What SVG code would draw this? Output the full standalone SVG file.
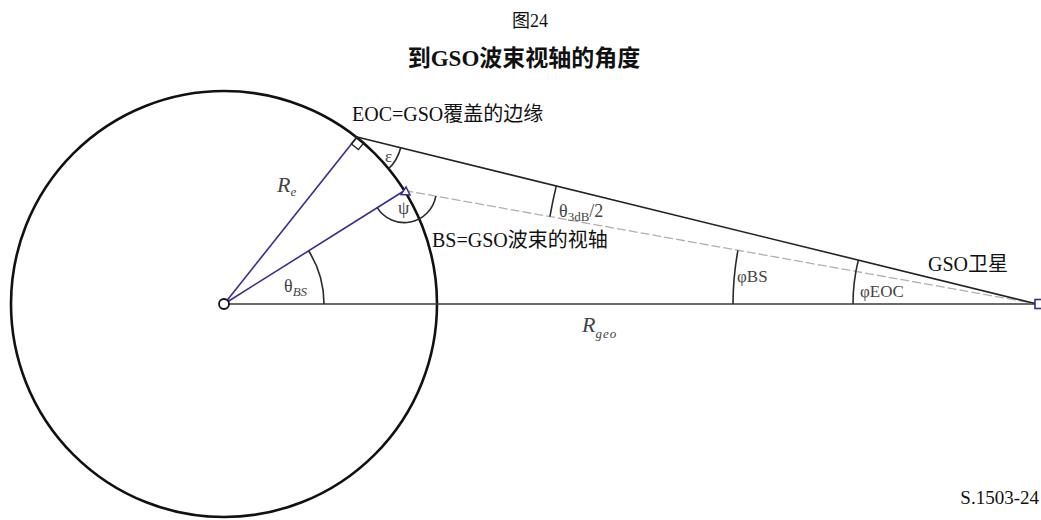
<svg xmlns="http://www.w3.org/2000/svg" width="1041" height="520" viewBox="0 0 1041 520">
<style>
.txt{font-family:"Liberation Serif","Noto Sans CJK SC",serif;fill:#111}
.lbl{font-family:"Liberation Serif","DejaVu Serif",serif;fill:#444}
.it{font-style:italic}
.earth{fill:none;stroke:#111;stroke-width:2.6}
.blk{fill:none;stroke:#222;stroke-width:1.6}
.hz{fill:none;stroke:#3a3a3a;stroke-width:1.6}
.pur{fill:none;stroke:#3b2a8e;stroke-width:1.6}
.dash{fill:none;stroke:#b4aeb0;stroke-width:1.3;stroke-dasharray:9 3}
.arc{fill:none;stroke:#2a2a2a;stroke-width:1.6}
</style>
<rect width="1041" height="520" fill="#fff"/>
<text class="txt" x="530" y="27" font-size="18" text-anchor="middle">图24</text>
<text class="txt" x="524" y="66" font-size="23" font-weight="bold" text-anchor="middle">到GSO波束视轴的角度</text>

<g id="earth"><circle class="earth" cx="224" cy="304" r="213"/></g>

<g id="connectors">
<line class="hz" x1="228.5" y1="304" x2="1035" y2="304"/>
<line class="dash" x1="404.3" y1="190.5" x2="1035" y2="303.5"/>
<line class="blk" x1="357" y1="137" x2="1035" y2="303.5"/>
<line class="pur" x1="227" y1="300.5" x2="357" y2="137"/>
<line class="pur" x1="228" y1="301.5" x2="403" y2="191.5"/>
</g>

<g id="arcs">
<path class="arc" d="M324,304 A100,100 0 0 0 308.6,250.7"/>
<path class="arc" d="M400.7,147.7 A45,45 0 0 1 388.6,168.8"/>
<path class="arc" d="M377.2,207.6 A32,32 0 0 0 435.8,196.2"/>
<path class="arc" d="M556.3,185.9 A495,495 0 0 0 549.9,216.6"/>
<path class="arc" d="M737.9,250.3 A304,304 0 0 0 733,304"/>
<path class="arc" d="M858.3,260.1 A184,184 0 0 0 853,304"/>
</g>

<g id="center"><circle cx="224" cy="304" r="5" fill="#fff" stroke="#111" stroke-width="1.8"/></g>
<g id="eoc"><path d="M357,137 L351.4,144 L358.4,149.6 L364,142.6 Z" fill="none" stroke="#222" stroke-width="1.4"/></g>
<g id="bs"><polygon points="401,194.5 406,187 410,195" fill="#fff" stroke="#3b2a8e" stroke-width="1.5"/></g>
<g id="satellite"><rect x="1035" y="299.5" width="8" height="9" fill="#fff" stroke="#3b2a8e" stroke-width="1.6"/></g>

<g id="labels">
<text class="txt" x="352" y="121" font-size="20">EOC=GSO覆盖的边缘</text>
<text class="txt" x="432" y="247" font-size="20">BS=GSO波束的视轴</text>
<text class="txt" x="928" y="271" font-size="20">GSO卫星</text>
<text class="txt" x="1039" y="504" font-size="19" text-anchor="end">S.1503-24</text>
<text class="lbl it" x="277" y="192" font-size="22">R<tspan font-size="13" dy="4">e</tspan></text>
<text class="lbl it" x="582" y="332" font-size="22">R<tspan font-size="13" dy="6" letter-spacing="1">geo</tspan></text>
<text class="lbl" x="284" y="292" font-size="18">θ<tspan class="it" font-size="13" dy="4">BS</tspan></text>
<text class="lbl" x="385" y="162" font-size="17">ε</text>
<text class="lbl" x="398" y="214" font-size="18">ψ</text>
<text class="lbl" x="559" y="217" font-size="18">θ<tspan font-size="13" dy="4">3dB</tspan><tspan dy="-4">/2</tspan></text>
<text class="lbl" x="737" y="282" font-size="17">φBS</text>
<text class="lbl" x="860" y="297" font-size="17">φEOC</text>
</g>
</svg>
